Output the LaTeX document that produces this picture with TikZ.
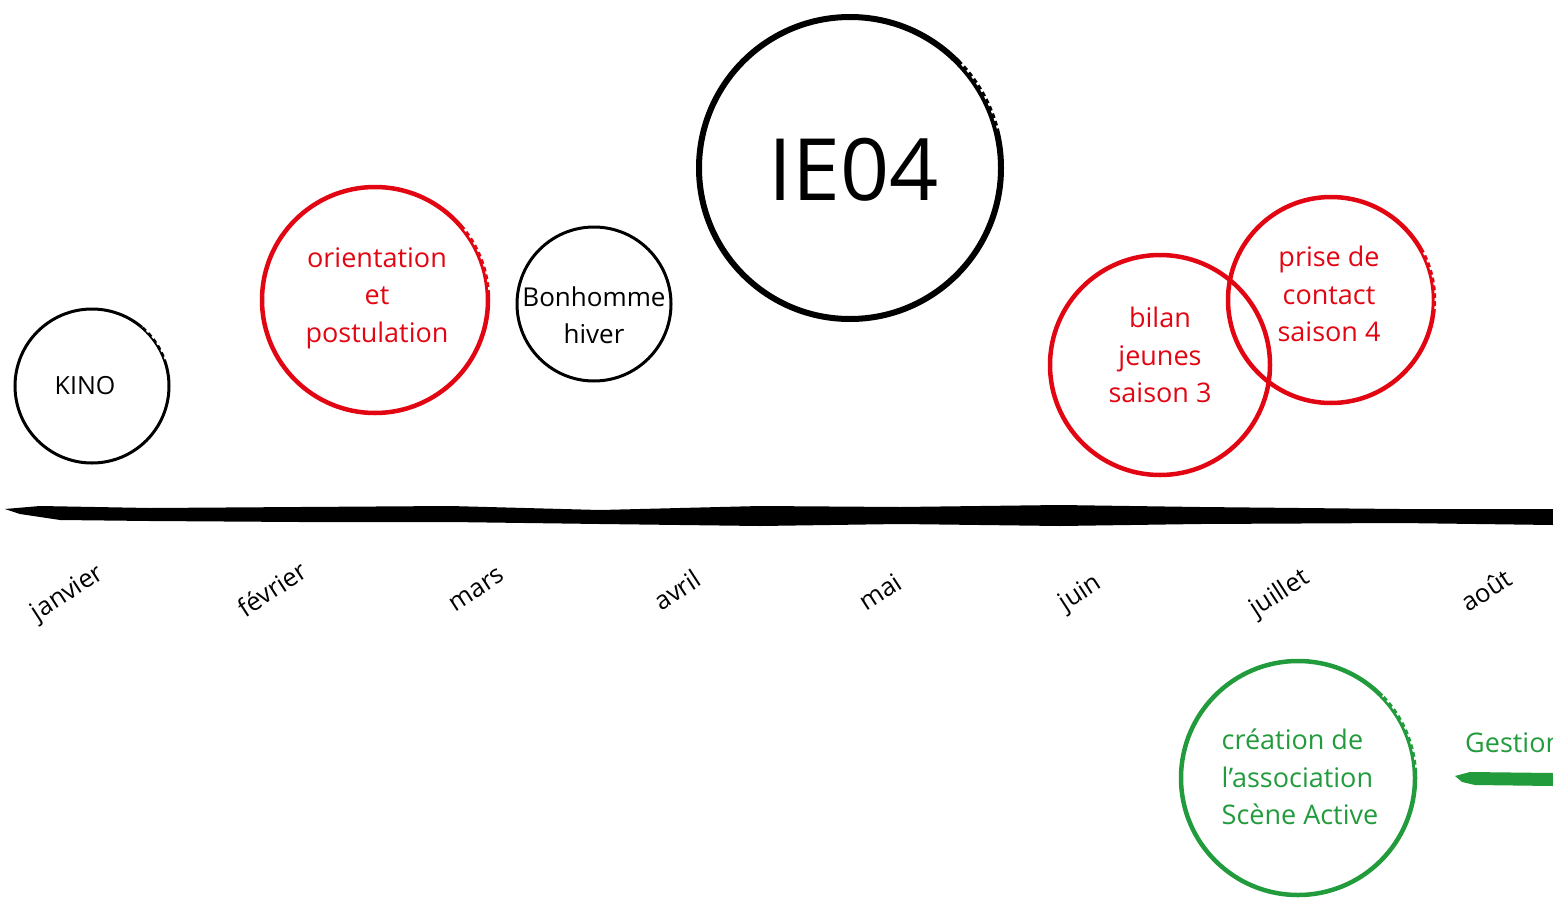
\documentclass[tikz,border=0pt]{standalone}
\usepackage{fontspec}
\setmainfont{Open Sans}
\definecolor{sred}{RGB}{226,6,19}
\definecolor{sgreen}{RGB}{34,155,60}
\begin{document}
\begin{tikzpicture}[x=1pt,y=-1pt,
  ring/.style={circle, draw, inner sep=0pt},
  redring/.style={ring, draw=sred, line width=4.5pt},
  blackring/.style={ring, draw=black, line width=3pt},
  greenring/.style={ring, draw=sgreen, line width=4.5pt},
  ringtext/.style={inner sep=0pt, align=center, font=\fontsize{27}{37.5}\selectfont},
  fade/.style={draw=white, dash pattern=on 3pt off 5pt},
  month/.style={rotate=33, font=\fontsize{25.5}{28}\selectfont, inner sep=0pt}]
\useasboundingbox (0,0) rectangle (1553,897);
\clip (0,0) rectangle (1553,897);

% timeline
\coordinate (tlstart) at (5,509);
\coordinate (tlend) at (1553,517);
\fill[black] (tlstart) -- (40,506) -- (150,508) -- (300,507) -- (450,506) -- (600,510) -- (760,506) -- (900,507) -- (1060,505) -- (1200,507) -- (1400,509) -- (1553,509)
  -- (1553,525) -- (1400,523) -- (1200,524) -- (1060,526) -- (900,524) -- (760,526) -- (600,524) -- (450,522) -- (300,522) -- (150,521) -- (60,520) -- (20,514) -- cycle;

% circles
\node[blackring, minimum size=154pt] (kino) at (92,386) {};
\node[ringtext, font=\fontsize{25}{30}\selectfont] (kinotxt) at (85,386) {KINO};
\node[redring, minimum size=226pt] (orient) at (375,300) {};
\node[ringtext, text=sred] (orienttxt) at (377,298) {orientation\\et\\postulation};
\node[blackring, minimum size=154pt] (bonh) at (594,304) {};
\node[ringtext, font=\fontsize{26}{37}\selectfont] (bonhtxt) at (594,315) {Bonhomme\\hiver};
\node[ring, draw=black, line width=6pt, minimum size=302pt] (ie) at (850,168) {};
\node[inner sep=0pt, font=\fontsize{86}{90}\selectfont] (ietxt) at (854,170) {IE04};
\node[redring, minimum size=220pt] (bilan) at (1160,365) {};
\node[ringtext, text=sred] (bilantxt) at (1160,355) {bilan\\jeunes\\saison 3};
\node[redring, minimum size=206pt] (prise) at (1331,300) {};
\node[ringtext, text=sred] (prisetxt) at (1329,294) {prise de\\contact\\saison 4};
\node[greenring, minimum size=234pt] (creation) at (1298,778) {};
\node[ringtext, text=sgreen, align=left] (creationtxt) at (1300,777) {création de\\l’association\\Scène Active};

% dry-brush fading on the upper right of the rings
\draw[fade, line width=2.2pt] (kino.20) arc[start angle=-20, end angle=-50, radius=77];
\draw[fade, line width=3pt] (orient.5) arc[start angle=-5, end angle=-40, radius=113];
\draw[fade, line width=4pt] (ie.15) arc[start angle=-15, end angle=-45, radius=151];
\draw[fade, line width=3pt] (prise.-5) arc[start angle=5, end angle=-30, radius=103];
\draw[fade, line width=3pt] (creation.5) arc[start angle=-5, end angle=-45, radius=117];

% Gestion
\node[anchor=west, text=sgreen, font=\fontsize{27}{32}\selectfont, inner sep=0pt] (gestion) at (1465,743) {Gestion};
\coordinate (gstart) at (1455,776);
\fill[sgreen] (gstart) -- (1470,772) -- (1553,773) -- (1553,786) -- (1475,785) -- (1462,782) -- cycle;

% months
\node[month] (jan) at (68,594) {janvier};
\node[month] (feb) at (272,589) {février};
\node[month] (mar) at (477,590) {mars};
\node[month] (apr) at (677,590) {avril};
\node[month] (may) at (880,592) {mai};
\node[month] (jun) at (1081,594) {juin};
\node[month] (jul) at (1280,594) {juillet};
\node[month] (aug) at (1486,590) {août};
\end{tikzpicture}
\end{document}
